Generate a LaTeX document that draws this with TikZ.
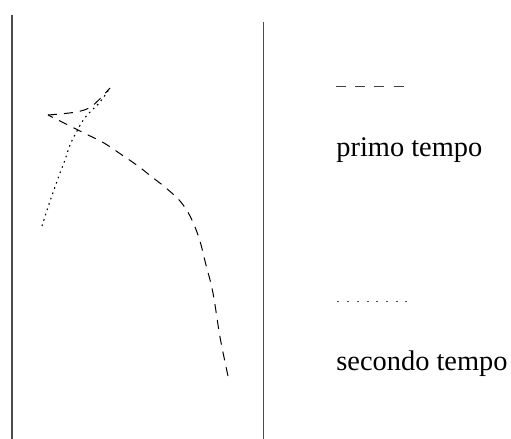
\documentclass[tikz,border=0pt]{standalone}
\usepackage{fontspec}
\setmainfont{Liberation Serif}
\begin{document}
\begin{tikzpicture}[x=0.5pt,y=-0.5pt,
  frame/.style={draw=black!70,line width=0.7pt},
  firsthalf/.style={draw=black,line width=0.5pt,dash pattern=on 4.5pt off 3.5pt},
  secondhalf/.style={draw=black,line width=0.55pt,dash pattern=on 0.8pt off 2pt},
  legdash/.style={draw=black!75,line width=0.7pt,dash pattern=on 5pt off 4.6pt},
  legdot/.style={draw=black!70,line width=0.7pt,dash pattern=on 1pt off 3.85pt},
  label/.style={anchor=base west,inner sep=0pt,font=\fontsize{14.2pt}{17pt}\selectfont}]
\useasboundingbox (0,0) rectangle (511,439);
% frame lines
\coordinate (lt) at (12,15);
\coordinate (lb) at (12,439);
\coordinate (rt) at (263.5,22);
\coordinate (rb) at (263.5,439);
\draw[frame] (lt) -- (lb);
\draw[frame] (rt) -- (rb);
% first-half path (dashed)
\draw[firsthalf] plot[smooth,tension=0.6] coordinates {
  (228,376) (220,337) (213,293) (206,265) (199,238) (190,216) (180,201)
  (166,188) (152,177) (138,166) (122,155) (104,143) (86,134) (68,125) (48,115)};
\draw[firsthalf] plot[smooth,tension=0.6] coordinates {
  (48,115) (76,112) (92,106) (110,88)};
% second-half path (dotted)
\draw[secondhalf] plot[smooth,tension=0.6] coordinates {
  (42,226) (48,207) (55,187) (60,173) (65,160) (70,145) (77,131) (84,119)
  (92,110) (100,102) (110,88)};
% legend
\coordinate (da) at (336,86.7);
\coordinate (db) at (404,86.7);
\draw[legdash] (da) -- (db);
\coordinate (ta) at (337.5,301.5);
\coordinate (tb) at (409,301.5);
\draw[legdot] (ta) -- (tb);
\node[label] (primo) at (336,156) {primo tempo};
\node[label] (secondo) at (336,371) {secondo tempo};
\end{tikzpicture}
\end{document}
